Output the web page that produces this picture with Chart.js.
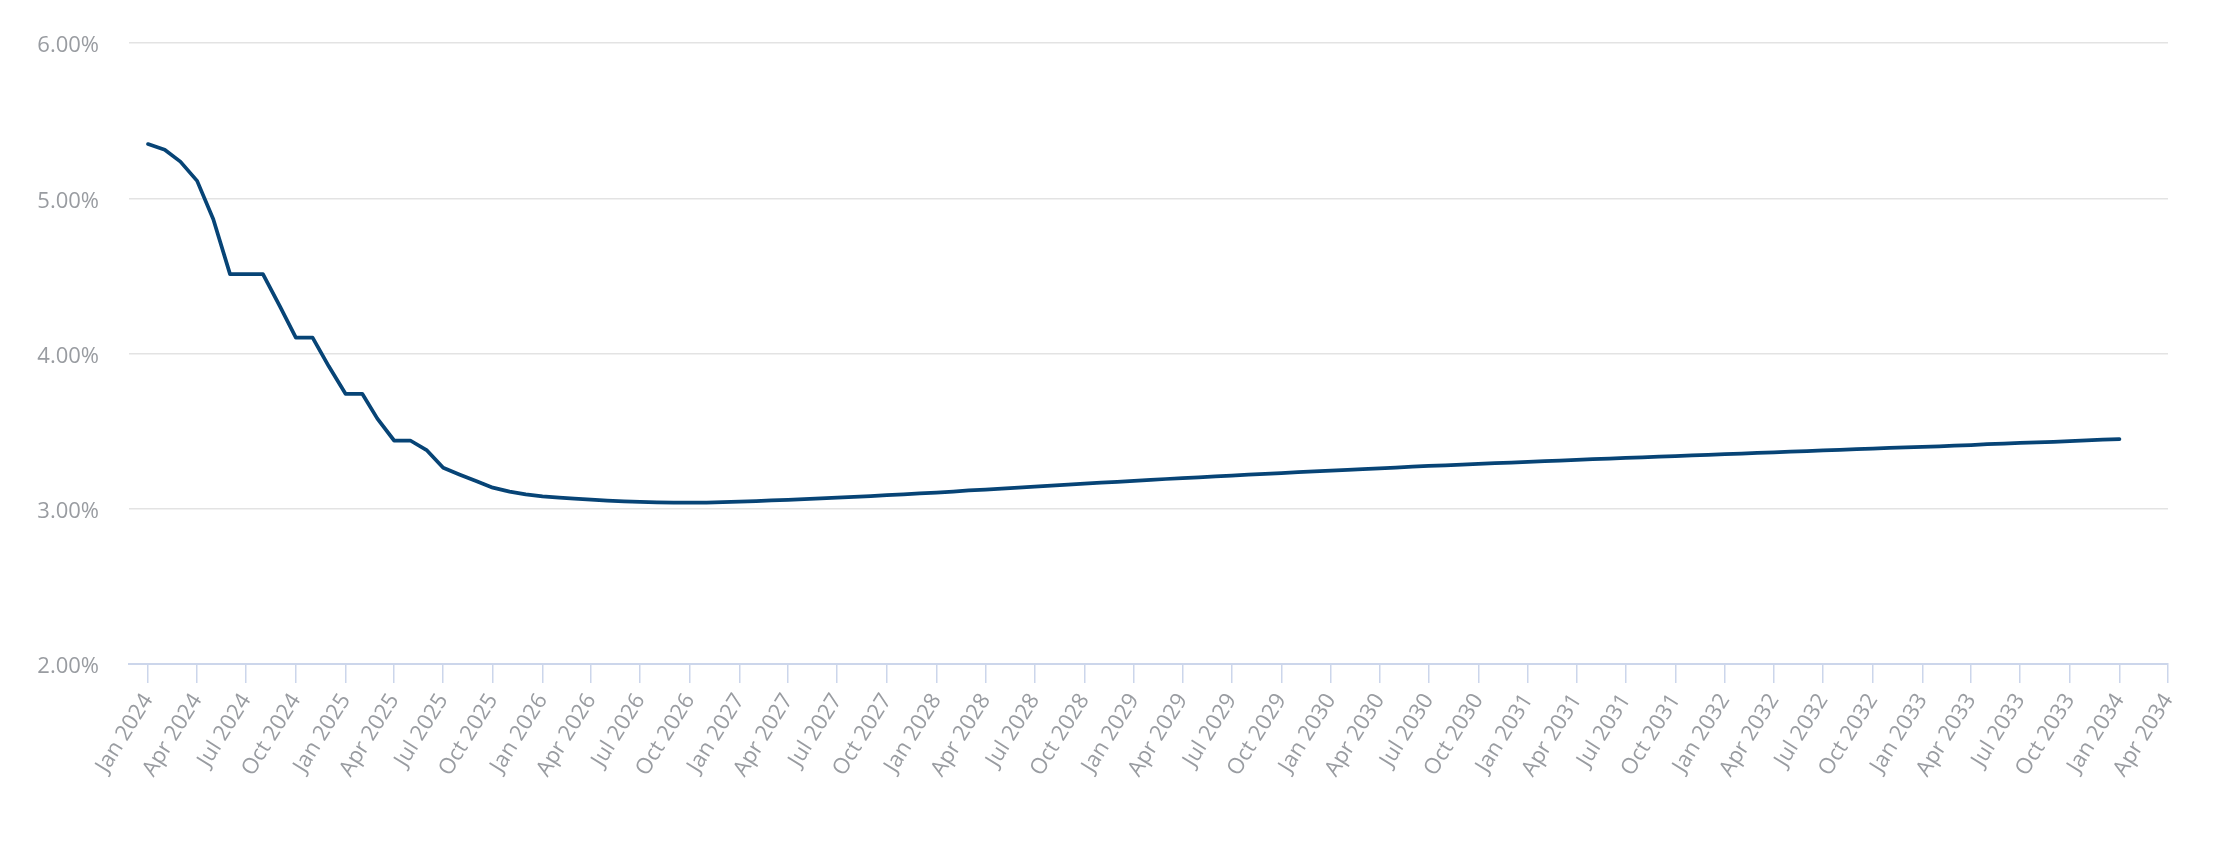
<!DOCTYPE html>
<html>
<head>
<meta charset="utf-8">
<script src="https://cdn.jsdelivr.net/npm/chart.js@4.4.1/dist/chart.umd.min.js"></script>
<style>
  html, body { margin: 0; padding: 0; background: #ffffff; }
  #wrap { width: 2228px; height: 854px; }
</style>
</head>
<body>
<div id="wrap"><canvas id="c" width="2228" height="854"></canvas></div>
<script>
// Series start (first month of data), monthly points
const startYear = 2024;
const startMonth = 0; // January

// Monthly rate values (%), Jan 2024 .. Jan 2034
const rateValues = [
  5.350, 5.314, 5.237, 5.113, 4.866, 4.512, 4.512, 4.512, 4.307, 4.103,
  4.103, 3.918, 3.741, 3.741, 3.581, 3.440, 3.440, 3.376, 3.265, 3.220,
  3.177, 3.136, 3.111, 3.093, 3.080, 3.072, 3.066, 3.059, 3.053, 3.048,
  3.045, 3.042, 3.040, 3.039, 3.040, 3.043, 3.046, 3.050, 3.054, 3.058,
  3.062, 3.067, 3.072, 3.077, 3.082, 3.088, 3.093, 3.099, 3.105, 3.111,
  3.118, 3.124, 3.130, 3.136, 3.143, 3.149, 3.155, 3.162, 3.168, 3.174,
  3.180, 3.186, 3.192, 3.197, 3.203, 3.209, 3.214, 3.220, 3.225, 3.230,
  3.236, 3.241, 3.246, 3.251, 3.256, 3.261, 3.266, 3.271, 3.276, 3.280,
  3.285, 3.289, 3.294, 3.298, 3.303, 3.307, 3.311, 3.315, 3.320, 3.324,
  3.328, 3.332, 3.336, 3.340, 3.344, 3.348, 3.352, 3.356, 3.360, 3.364,
  3.368, 3.372, 3.376, 3.380, 3.384, 3.388, 3.392, 3.395, 3.399, 3.403,
  3.407, 3.411, 3.416, 3.420, 3.424, 3.428, 3.432, 3.436, 3.441, 3.445,
  3.449
];

// Quarterly x-axis tick labels
const tickLabels = [
  "Jan 2024","Apr 2024","Jul 2024","Oct 2024",
  "Jan 2025","Apr 2025","Jul 2025","Oct 2025",
  "Jan 2026","Apr 2026","Jul 2026","Oct 2026",
  "Jan 2027","Apr 2027","Jul 2027","Oct 2027",
  "Jan 2028","Apr 2028","Jul 2028","Oct 2028",
  "Jan 2029","Apr 2029","Jul 2029","Oct 2029",
  "Jan 2030","Apr 2030","Jul 2030","Oct 2030",
  "Jan 2031","Apr 2031","Jul 2031","Oct 2031",
  "Jan 2032","Apr 2032","Jul 2032","Oct 2032",
  "Jan 2033","Apr 2033","Jul 2033","Oct 2033",
  "Jan 2034","Apr 2034"
];

// Y axis tick values (%)
const yTicks = [2, 3, 4, 5, 6];

const DAY = 86400000;
const origin = Date.UTC(startYear, startMonth, 1);
function monthToDays(m) { return (Date.UTC(startYear, startMonth + m, 1) - origin) / DAY; }

const points = rateValues.map((v, i) => ({ x: monthToDays(i), y: v }));
const tickPositions = tickLabels.map((_, i) => monthToDays(i * 3));

const axisBlue = '#ccd6eb';
const labelGrey = '#999ca1';
const fontFamily = '"Open Sans", "DejaVu Sans", sans-serif';

new Chart(document.getElementById('c'), {
  type: 'line',
  data: {
    datasets: [{
      data: points,
      borderColor: '#074476',
      borderWidth: 3.75,
      pointRadius: 0,
      pointHoverRadius: 0,
      tension: 0,
      fill: false,
      borderJoinStyle: 'round',
      borderCapStyle: 'round'
    }]
  },
  options: {
    responsive: false,
    animation: false,
    events: [],
    layout: { padding: { left: 0, right: 60, top: 42.6, bottom: 0 } },
    plugins: { legend: { display: false }, tooltip: { enabled: false } },
    scales: {
      x: {
        type: 'linear',
        min: -35.2,
        max: tickPositions[tickPositions.length - 1],
        afterFit: (s) => { s.height = 190; },
        afterBuildTicks: (s) => { s.ticks = tickPositions.map(v => ({ value: v })); },
        grid: {
          drawOnChartArea: false,
          drawTicks: true,
          tickLength: 19,
          color: axisBlue,
          lineWidth: 1.5
        },
        border: { display: true, color: axisBlue, width: 2 },
        ticks: {
          autoSkip: false,
          maxRotation: 58,
          minRotation: 58,
          padding: 6,
          color: labelGrey,
          font: { family: fontFamily, size: 22 },
          callback: (v, i) => tickLabels[i]
        }
      },
      y: {
        min: yTicks[0],
        max: yTicks[yTicks.length - 1],
        afterFit: (s) => { s.width = 129; },
        afterBuildTicks: (s) => { s.ticks = yTicks.map(v => ({ value: v })); },
        grid: {
          drawTicks: false,
          color: (ctx) => ctx.tick && ctx.tick.value === yTicks[0] ? 'rgba(0,0,0,0)' : '#e3e3e3',
          lineWidth: 1.5
        },
        border: { display: false },
        ticks: {
          padding: 30,
          labelOffset: 3,
          color: labelGrey,
          font: { family: fontFamily, size: 22 },
          callback: (v) => Number(v).toFixed(2) + '%'
        }
      }
    }
  }
});
</script>
</body>
</html>
